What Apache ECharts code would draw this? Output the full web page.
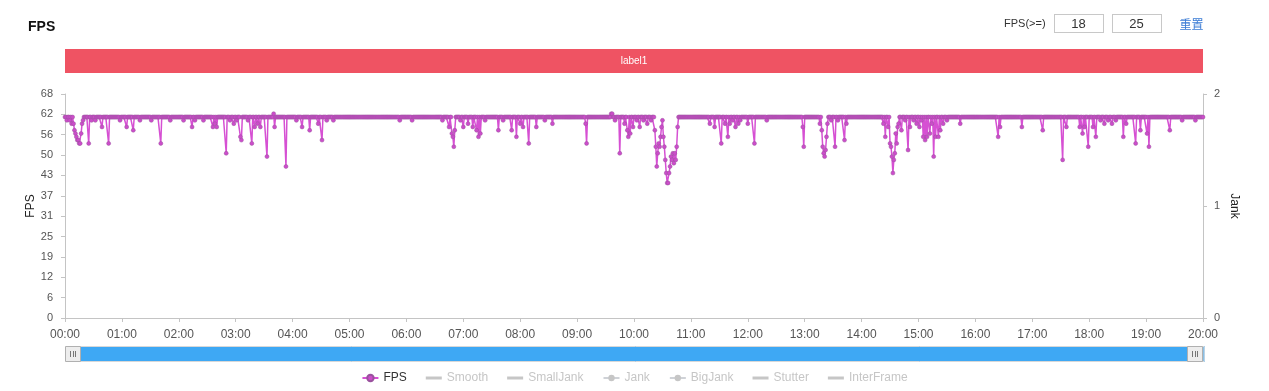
<!DOCTYPE html>
<html>
<head>
<meta charset="utf-8">
<script src="https://cdn.jsdelivr.net/npm/echarts@6/dist/echarts.min.js"></script>
<style>
html,body{margin:0;padding:0;background:#fff;}
#wrap{position:relative;width:1269px;height:391px;font-family:"Liberation Sans",Arial,Helvetica,sans-serif;}
#chart{position:absolute;left:0;top:0;width:1269px;height:391px;}
#ctrl{position:absolute;top:13px;left:1004px;height:20px;display:flex;align-items:center;font-size:11px;color:#333;}
#ctrl .inp{box-sizing:border-box;width:50px;height:19px;border:1px solid #c8c8c8;text-align:center;font-size:13px;line-height:17px;color:#333;margin-left:8px;}
#ctrl .reset{color:#3a7bd5;font-size:12px;margin-left:18px;font-family:"Noto Sans CJK SC",sans-serif;}
</style>
</head>
<body>
<div id="wrap">
<div id="chart"></div>
<div id="ctrl"><span>FPS(&gt;=)</span><span class="inp">18</span><span class="inp">25</span><span class="reset">重置</span></div>
</div>
<script>
// FPS sampled once per second, 0s .. 1200s (one row per minute)
var fpsValues = [
61,61,60,61,61,60,61,59,61,59,57,56,55,54,54,53,53,56,59,60,61,61,61,61,61,53,61,61,60,61,61,61,60,61,61,61,61,61,61,58,61,61,61,61,61,61,53,61,61,61,61,61,61,61,61,61,61,61,60,61,
61,61,61,61,61,58,61,61,61,61,61,61,57,61,61,61,61,61,61,60,61,61,61,61,61,61,61,61,61,61,61,60,61,61,61,61,61,61,61,61,61,53,61,61,61,61,61,61,61,61,61,60,61,61,61,61,61,61,61,61,
61,61,61,61,61,60,61,61,61,61,61,61,61,61,58,61,61,60,61,61,61,61,61,61,61,61,60,61,61,61,61,61,61,61,61,61,58,61,59,61,58,61,61,61,61,61,61,61,61,61,50,61,61,61,60,61,61,61,59,61,
61,60,61,61,61,55,54,61,61,61,61,61,61,60,61,61,61,53,61,61,58,61,61,59,61,61,58,61,61,61,61,61,61,49,61,61,61,61,61,61,62,58,61,61,61,61,61,61,61,61,61,61,61,46,61,61,61,61,61,61,
61,61,61,61,60,61,61,61,61,61,58,61,61,61,61,61,61,61,57,61,61,61,61,61,61,61,61,59,61,61,61,54,61,61,61,61,60,61,61,61,61,61,61,60,61,61,61,61,61,61,61,61,61,61,61,61,61,61,61,61,
61,61,61,61,61,61,61,61,61,61,61,61,61,61,61,61,61,61,61,61,61,61,61,61,61,61,61,61,61,61,61,61,61,61,61,61,61,61,61,61,61,61,61,61,61,61,61,61,61,61,61,61,61,60,61,61,61,61,61,61,
61,61,61,61,61,61,60,61,61,61,61,61,61,61,61,61,61,61,61,61,61,61,61,61,61,61,61,61,61,61,61,61,61,61,61,61,61,61,60,61,61,61,61,61,61,58,61,61,56,55,52,57,61,61,61,61,61,60,61,61,
58,61,61,61,61,59,61,61,61,61,58,61,61,61,57,61,55,61,56,61,61,61,61,60,61,61,61,61,61,61,61,61,61,61,61,61,61,57,61,61,61,61,60,61,61,61,61,61,61,61,61,57,61,61,61,61,55,61,61,61,
59,61,61,58,61,61,61,61,61,53,61,61,61,61,61,61,61,58,61,61,61,61,61,61,61,61,60,61,61,61,61,61,61,61,59,61,61,61,61,61,61,61,61,61,61,61,61,61,61,61,61,61,61,61,61,61,61,61,61,61,
61,61,61,61,61,61,61,61,61,59,53,61,61,61,61,61,61,61,61,61,61,61,61,61,61,61,61,61,61,61,61,61,61,61,61,61,62,62,61,61,60,61,61,61,61,50,61,61,61,61,59,61,61,57,55,61,56,61,61,58,
61,61,61,60,61,61,58,61,61,61,60,61,61,61,59,61,61,61,60,61,61,61,57,52,46,50,53,52,55,58,60,55,52,48,44,41,41,44,46,49,48,50,47,50,48,52,58,61,61,61,61,61,61,61,61,61,61,61,61,61,
61,61,61,61,61,61,61,61,61,61,61,61,61,61,61,61,61,61,61,61,59,61,61,61,61,58,61,61,61,61,61,61,53,61,61,61,59,61,61,55,61,59,61,61,60,61,61,58,61,61,59,61,60,61,61,61,61,61,61,61,
59,61,61,61,61,61,61,53,61,61,61,61,61,61,61,61,61,61,61,61,60,61,61,61,61,61,61,61,61,61,61,61,61,61,61,61,61,61,61,61,61,61,61,61,61,61,61,61,61,61,61,61,61,61,61,61,61,61,58,52,
61,61,61,61,61,61,61,61,61,61,61,61,61,61,61,61,59,61,57,52,50,49,51,55,59,61,61,61,60,61,61,61,52,61,61,60,61,61,61,61,61,61,54,61,59,61,61,61,61,61,61,61,61,61,61,61,61,61,61,61,
61,61,61,61,61,61,61,61,61,61,61,61,61,61,61,61,61,61,61,61,61,61,61,59,61,55,61,61,58,61,53,52,49,44,48,50,56,53,58,59,61,61,57,61,61,61,60,61,61,51,61,58,61,61,61,60,61,61,59,61,
61,58,61,60,61,55,61,54,61,55,61,61,56,61,59,61,49,61,55,61,61,55,61,57,61,61,59,61,61,61,60,61,61,61,61,61,61,61,61,61,61,61,61,61,59,61,61,61,61,61,61,61,61,61,61,61,61,61,61,61,
61,61,61,61,61,61,61,61,61,61,61,61,61,61,61,61,61,61,61,61,61,61,61,61,55,61,58,61,61,61,61,61,61,61,61,61,61,61,61,61,61,61,61,61,61,61,61,61,61,58,61,61,61,61,61,61,61,61,61,61,
61,61,61,61,61,61,61,61,61,61,61,57,61,61,61,61,61,61,61,61,61,61,61,61,61,61,61,61,61,61,61,61,48,61,61,61,58,61,61,61,61,61,61,61,61,61,61,61,61,61,58,61,61,56,61,58,61,61,61,52,
61,61,61,61,58,61,61,55,61,61,61,61,60,61,61,61,59,61,61,61,60,61,61,61,59,61,61,61,60,61,61,61,61,61,61,61,55,61,61,59,61,61,61,61,61,61,61,61,61,53,61,61,61,61,57,61,61,61,61,61,
61,56,61,52,61,61,61,61,61,61,61,61,61,61,61,61,61,61,61,61,61,61,61,61,61,57,61,61,61,61,61,61,61,61,61,61,61,61,60,61,61,61,61,61,61,61,61,61,61,61,61,61,60,61,61,61,61,61,61,61,
61
];
var smoothValues = [];
var smallJankValues = [];
var jankValues = [];
var bigJankValues = [];
var stutterValues = [];
var interFrameValues = [];
var seriesNames = ['FPS','Smooth','SmallJank','Jank','BigJank','Stutter','InterFrame'];
var fpsTicks = [0,6,12,19,25,31,37,43,50,56,62,68];
var jankTicks = [0,1,2];
var labelNames = ['label1'];
var labelStart = [0];
var labelEnd = [1200];
var durationSec = 1200;

function mmss(v){
  var m = Math.floor(v/60), s = Math.round(v%60);
  return (m<10?'0':'')+m+':'+(s<10?'0':'')+s;
}
var fpsMax = fpsTicks[fpsTicks.length-1];
var fpsStep = fpsMax/(fpsTicks.length-1);
var fpsData = fpsValues.map(function(v,i){return [i,v];});
var labelData = labelNames.map(function(n,i){return {name:n, value:[labelStart[i], labelEnd[i]]};});

var chart = echarts.init(document.getElementById('chart'), null, {renderer:'canvas'});
var FONT = '"Liberation Sans", Arial, Helvetica, sans-serif';
var grayAxis = '#c4c4c4';
var barIcon = 'path://M0,0M0,2.5H16V5.5H0ZM16,8';
var legendData = [
  {name:'FPS'},
  {name:'Smooth', icon:barIcon},
  {name:'SmallJank', icon:barIcon},
  {name:'Jank'},
  {name:'BigJank'},
  {name:'Stutter', icon:barIcon},
  {name:'InterFrame', icon:barIcon}
];
var option = {
  animation:false,
  textStyle:{fontFamily:FONT},
  title:{text:'FPS', left:23, top:15, textStyle:{fontSize:14, fontWeight:'bold', color:'#111', fontFamily:FONT}},
  grid:[
    {left:65, right:66, top:94, bottom:73},
    {left:65, right:66, top:49, height:24}
  ],
  xAxis:[
    {type:'value', gridIndex:0, min:0, max:durationSec, interval:60,
     axisLine:{show:true, lineStyle:{color:grayAxis}},
     axisTick:{show:true, length:4, lineStyle:{color:grayAxis}},
     axisLabel:{color:'#555', fontSize:12, margin:11, formatter:mmss, showMaxLabel:true},
     splitLine:{show:false}},
    {type:'value', gridIndex:1, min:0, max:durationSec, show:false}
  ],
  yAxis:[
    {type:'value', gridIndex:0, min:0, max:fpsMax, interval:fpsStep, name:'FPS', nameLocation:'middle', nameGap:28, nameRotate:90, nameMoveOverlap:false,
     nameTextStyle:{color:'#222', fontSize:12},
     axisLine:{show:true, lineStyle:{color:grayAxis}},
     axisTick:{show:true, length:4, lineStyle:{color:grayAxis}},
     axisLabel:{color:'#555', fontSize:11, margin:12, formatter:function(v){return String(fpsTicks[Math.round(v/fpsStep)]);}},
     splitLine:{show:false}},
    {type:'value', gridIndex:0, position:'right', min:jankTicks[0], max:jankTicks[jankTicks.length-1], interval:1, name:'Jank', nameLocation:'middle', nameGap:25, nameRotate:-90, nameMoveOverlap:false,
     nameTextStyle:{color:'#222', fontSize:12},
     axisLine:{show:true, lineStyle:{color:grayAxis}},
     axisTick:{show:true, length:4, lineStyle:{color:grayAxis}},
     axisLabel:{color:'#555', fontSize:11, margin:11},
     splitLine:{show:false}},
    {type:'category', gridIndex:1, data:['l'], show:false}
  ],
  dataZoom:[
    {type:'slider', xAxisIndex:0, start:0, end:100, left:65, right:66, top:346, height:16,
     showDetail:false, showDataShadow:false, brushSelect:false, moveHandleSize:0,
     backgroundColor:'#f4f4f4', borderColor:'#d8d8d8',
     fillerColor:'#3ea8f4',
     handleIcon:'path://M0,0H1V1H0Z',
     handleSize:'100%',
     handleStyle:{opacity:0},
     dataBackground:{lineStyle:{opacity:0}, areaStyle:{opacity:0}}}
  ],
  legend:{
    data:legendData, left:'center', bottom:2, itemWidth:16, itemHeight:8, itemGap:19,
    textStyle:{fontSize:12, color:'#333'}, inactiveColor:'#c6c6c6',
    selected:{'FPS':true,'Smooth':false,'SmallJank':false,'Jank':false,'BigJank':false,'Stutter':false,'InterFrame':false}
  },
  series:[
    {name:'FPS', type:'line', xAxisIndex:0, yAxisIndex:0, data:fpsData,
     showSymbol:true, showAllSymbol:true, symbol:'circle', symbolSize:4,
     lineStyle:{color:'#d650d3', width:1.5},
     itemStyle:{color:'#cc4cca', borderColor:'#9a529e', borderWidth:0.5}},
    {name:'Smooth', type:'line', xAxisIndex:0, yAxisIndex:1, data:smoothValues, symbol:'none', lineStyle:{color:'#999'}, itemStyle:{color:'#999'}},
    {name:'SmallJank', type:'line', xAxisIndex:0, yAxisIndex:1, data:smallJankValues, symbol:'none', lineStyle:{color:'#999'}, itemStyle:{color:'#999'}},
    {name:'Jank', type:'line', xAxisIndex:0, yAxisIndex:1, data:jankValues, symbol:'circle', lineStyle:{color:'#999'}, itemStyle:{color:'#999'}},
    {name:'BigJank', type:'line', xAxisIndex:0, yAxisIndex:1, data:bigJankValues, symbol:'circle', lineStyle:{color:'#999'}, itemStyle:{color:'#999'}},
    {name:'Stutter', type:'line', xAxisIndex:0, yAxisIndex:1, data:stutterValues, symbol:'none', lineStyle:{color:'#999'}, itemStyle:{color:'#999'}},
    {name:'InterFrame', type:'line', xAxisIndex:0, yAxisIndex:1, data:interFrameValues, symbol:'none', lineStyle:{color:'#999'}, itemStyle:{color:'#999'}},
    {name:'labels', type:'custom', xAxisIndex:1, yAxisIndex:2, data:labelData,
     renderItem:function(params, api){
       var s = api.coord([api.value(0), 'l']);
       var e = api.coord([api.value(1), 'l']);
       var h = api.size([0, 1])[1];
       return {type:'rect', shape:{x:s[0], y:s[1]-h/2, width:e[0]-s[0], height:h},
         style:{fill:'#ef5363'},
         textContent:{style:{text:labelNames[params.dataIndex], fill:'#fff', fontSize:10, fontFamily:FONT}},
         textConfig:{position:'inside'}};
     }}
  ]
};
chart.setOption(option);

// slider handles drawn inside the selected range ends
function handle(x){
  var top = 346, h = 16, w = 15;
  var cx = x + w/2, children = [
    {type:'rect', z:200, shape:{x:x+0.5, y:top+0.5, width:w, height:h-1}, style:{fill:'#ededed', stroke:'#b0b0b0', lineWidth:1}, silent:true}
  ];
  [-2.5, 0, 2.5].forEach(function(d){
    children.push({type:'line', z:201, shape:{x1:Math.round(cx+d)+0.5, y1:top+5, x2:Math.round(cx+d)+0.5, y2:top+11}, style:{stroke:'#777', lineWidth:1}, silent:true});
  });
  return children;
}
var px0 = chart.convertToPixel({xAxisIndex:0}, 0);
var px1 = chart.convertToPixel({xAxisIndex:0}, durationSec);
chart.setOption({graphic:{elements:handle(px0).concat(handle(px1-16))}});
</script>
</body>
</html>
